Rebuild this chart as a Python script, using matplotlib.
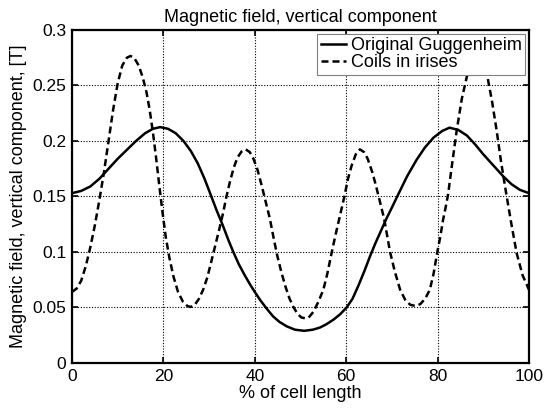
import matplotlib
matplotlib.use("Agg")
import matplotlib.pyplot as plt

plt.rcParams["font.family"] = ["Liberation Sans", "DejaVu Sans"]

#### Data
# Original Guggenheim (solid)
orig_x = [0, 2, 4, 6, 8, 10, 12, 14, 16, 17.7, 19.3, 21, 22.7, 24.4, 26, 27.5, 29,
          30.4, 31.7, 33, 34.2, 35.3, 36.5, 37.8, 39, 40, 41.3, 42.6, 44, 45.4, 47,
          48.8, 50.8, 52.7, 54.3, 55.7, 57.2, 58.7, 60.1, 61.4, 62.7, 64, 65.2, 66.4,
          67.6, 68.8, 70, 71.4, 73.3, 75.4, 77.2, 79.1, 81, 82.6, 84.5, 86.4, 88.2,
          90, 92.2, 94.4, 96.2, 98, 100]
orig_y = [0.153, 0.155, 0.159, 0.166, 0.175, 0.184, 0.192, 0.200, 0.207, 0.211,
          0.2125, 0.211, 0.207, 0.200, 0.191, 0.180, 0.166, 0.151, 0.137, 0.124,
          0.111, 0.100, 0.089, 0.079, 0.0705, 0.064, 0.056, 0.049, 0.042, 0.037,
          0.033, 0.030, 0.029, 0.030, 0.032, 0.035, 0.039, 0.044, 0.050, 0.058,
          0.070, 0.083, 0.096, 0.108, 0.119, 0.130, 0.140, 0.152, 0.168, 0.183,
          0.194, 0.203, 0.209, 0.212, 0.210, 0.205, 0.197, 0.188, 0.178, 0.168,
          0.161, 0.156, 0.153]

# Coils in irises (dashed)
coils_x = [0, 1, 2, 3, 4, 5, 6, 7, 8, 9, 10, 11, 12, 12.8, 13.6, 14.6, 15.5, 16.3,
           17, 17.7, 18.4, 19.1, 19.8, 20.5, 21.3, 22.2, 23.2, 24.3, 25.3, 26, 26.8,
           27.8, 28.7, 29.6, 30.4, 31.3, 32.2, 33, 33.8, 34.6, 35.4, 36.2, 37.1, 38,
           38.9, 39.7, 40.6, 41.5, 42.4, 43.3, 44.1, 44.9, 45.8, 46.7, 47.6, 48.5,
           49.4, 50.2, 51, 51.8, 52.8, 53.9, 55, 55.9, 56.8, 57.7, 58.6, 59.6, 60.4,
           61.2, 62.1, 63, 63.9, 64.7, 65.7, 66.5, 67.4, 68.3, 69.6, 70.6, 71.8,
           72.9, 74, 75.1, 76.2, 77.3, 78.3, 79.1, 79.9, 80.6, 81.2, 81.8, 82.3,
           83.2, 84.2, 85.3, 86.4, 87.5, 88.6, 89.8, 90.9, 91.9, 92.9, 93.9, 95,
           96.2, 97.3, 98.6, 100]
coils_y = [0.064, 0.067, 0.074, 0.087, 0.104, 0.124, 0.147, 0.172, 0.200, 0.228,
           0.252, 0.268, 0.275, 0.2766, 0.275, 0.268, 0.257, 0.244, 0.228, 0.208,
           0.185, 0.160, 0.136, 0.114, 0.095, 0.078, 0.064, 0.055, 0.0512, 0.0505,
           0.052, 0.058, 0.066, 0.077, 0.090, 0.105, 0.120, 0.134, 0.150, 0.164,
           0.176, 0.185, 0.1905, 0.1925, 0.190, 0.184, 0.174, 0.160, 0.145, 0.130,
           0.113, 0.097, 0.082, 0.069, 0.058, 0.050, 0.044, 0.041, 0.0403, 0.041,
           0.046, 0.055, 0.066, 0.081, 0.099, 0.116, 0.132, 0.150, 0.166, 0.178,
           0.188, 0.1925, 0.190, 0.184, 0.172, 0.160, 0.145, 0.130, 0.100, 0.083,
           0.066, 0.057, 0.0525, 0.0514, 0.053, 0.058, 0.066, 0.080, 0.099, 0.114,
           0.129, 0.141, 0.152, 0.180, 0.210, 0.238, 0.258, 0.271, 0.277, 0.272,
           0.258, 0.236, 0.210, 0.181, 0.153, 0.124, 0.099, 0.079, 0.066]

x_ticks = [0, 20, 40, 60, 80, 100]
x_tick_labels = ["0", "20", "40", "60", "80", "100"]
y_ticks = [0, 0.05, 0.1, 0.15, 0.2, 0.25, 0.3]
y_tick_labels = ["0", "0.05", "0.1", "0.15", "0.2", "0.25", "0.3"]

#### Plot
fig = plt.figure(figsize=(5.5, 4.08), dpi=100)
ax = fig.add_axes([0.1309, 0.1103, 0.8309, 0.8162])

ax.plot(orig_x, orig_y, color="k", lw=1.8, label="Original Guggenheim")
ax.plot(coils_x, coils_y, color="k", lw=1.8, linestyle=(0, (2.8, 1.6)),
        label="Coils in irises")

ax.set_xlim(0, 100)
ax.set_ylim(0, 0.3)
ax.set_xticks(x_ticks)
ax.set_xticklabels(x_tick_labels)
ax.set_yticks(y_ticks)
ax.set_yticklabels(y_tick_labels)

# MATLAB look: dotted grid, inward ticks on every side, thick box
ax.grid(True, color="k", linestyle=(0, (1, 1.5)), linewidth=0.8)
ax.tick_params(direction="in", length=4, width=1.2, top=True, right=True,
               labelsize=12.5, pad=4)
for spine in ax.spines.values():
    spine.set_linewidth(1.6)

ax.set_title("Magnetic field, vertical component", fontsize=13, pad=6)
ax.set_xlabel("% of cell length", fontsize=13, labelpad=1)
ax.set_ylabel("Magnetic field, vertical component, [T]", fontsize=13, labelpad=4)

leg = ax.legend(loc="upper right", fontsize=13, fancybox=False, framealpha=1,
                edgecolor="0.5", borderpad=0.2, borderaxespad=0.2,
                labelspacing=0.0, handlelength=1.4, handletextpad=0.25)
leg.get_frame().set_linewidth(0.8)

fig.savefig("out.png", dpi=100)
